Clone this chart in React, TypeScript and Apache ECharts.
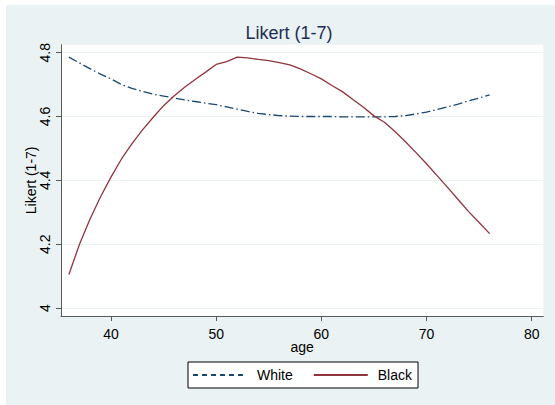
import React, { useEffect, useRef } from "react";
import * as echarts from "echarts";

// Age grid shared by both groups
const ages: number[] = [
  36, 37, 38, 39, 40, 41, 42, 43, 44, 45, 46, 47, 48, 49, 50, 51, 52, 53, 54, 55,
  56, 57, 58, 59, 60, 61, 62, 63, 64, 65, 66, 67, 68, 69, 70, 71, 72, 73, 74, 75, 76,
];

// Smoothed Likert score, White respondents
const whiteValues: number[] = [
  4.786, 4.768, 4.75, 4.733, 4.718, 4.7, 4.688, 4.679, 4.67, 4.664, 4.658, 4.652,
  4.647, 4.642, 4.637, 4.63, 4.623, 4.616, 4.61, 4.606, 4.603, 4.601, 4.6, 4.6,
  4.6, 4.6, 4.599, 4.599, 4.599, 4.599, 4.599, 4.6, 4.603, 4.608, 4.614, 4.622,
  4.63, 4.639, 4.649, 4.658, 4.668,
];

// Smoothed Likert score, Black respondents
const blackValues: number[] = [
  4.105, 4.199, 4.278, 4.348, 4.41, 4.467, 4.515, 4.558, 4.597, 4.634, 4.664,
  4.692, 4.716, 4.739, 4.763, 4.772, 4.786, 4.784, 4.779, 4.775, 4.769, 4.762,
  4.749, 4.734, 4.718, 4.697, 4.678, 4.653, 4.629, 4.602, 4.582, 4.553, 4.521,
  4.487, 4.452, 4.415, 4.378, 4.34, 4.302, 4.268, 4.233,
];

const xTicks: number[] = [40, 50, 60, 70, 80];
const yTicks: number[] = [4, 4.2, 4.4, 4.6, 4.8];

const FONT = "'Liberation Sans', Arial, sans-serif";
const AXIS_GRAY = "#5a5a5a";

export default function App() {
  const ref = useRef<HTMLDivElement>(null);

  useEffect(() => {
    if (!ref.current) return;
    const chart = echarts.init(ref.current, null, { renderer: "svg" });
    chart.setOption({
      animation: false,
      backgroundColor: "#eaf2f3",
      textStyle: { fontFamily: FONT },
      title: {
        text: "Likert (1-7)",
        left: 278,
        textAlign: "center",
        top: 14,
        textStyle: { fontFamily: FONT, fontSize: 18, fontWeight: "normal", color: "#1e2d55" },
      },
      grid: {
        left: 55,
        top: 39.7,
        right: 11.7,
        bottom: 89,
        show: true,
        backgroundColor: "#ffffff",
        borderWidth: 0,
      },
      legend: {
        left: 182,
        top: 357,
        orient: "horizontal",
        backgroundColor: "#ffffff",
        borderColor: "#000000",
        borderWidth: 1,
        borderRadius: 0,
        padding: [6, 6, 6, 4],
        itemWidth: 54,
        itemHeight: 14,
        itemGap: 20,
        itemStyle: { opacity: 0 },
        textStyle: { fontFamily: FONT, fontSize: 14, color: "#000", padding: [0, 0, 0, 5] },
        data: [
          { name: "White", lineStyle: { type: [5, 4] } },
          { name: "Black" },
        ],
      },
      xAxis: {
        type: "value",
        min: 35.25,
        max: 81.1,
        name: "age",
        nameLocation: "middle",
        nameGap: 24,
        nameMoveOverlap: false,
        nameTextStyle: { fontFamily: FONT, fontSize: 14, color: "#000" },
        axisLine: { show: true, onZero: false, lineStyle: { color: AXIS_GRAY, width: 1 } },
        axisTick: { show: true, length: 5, customValues: xTicks, lineStyle: { color: AXIS_GRAY } },
        axisLabel: {
          customValues: xTicks,
          fontFamily: FONT,
          fontSize: 14,
          color: "#000",
          margin: 11,
        },
        splitLine: { show: false },
      },
      yAxis: {
        type: "value",
        min: 3.975,
        max: 4.825,
        name: "Likert (1-7)",
        nameLocation: "middle",
        nameGap: 23,
        nameMoveOverlap: false,
        nameTextStyle: { fontFamily: FONT, fontSize: 14, color: "#000" },
        axisLine: { show: true, onZero: false, lineStyle: { color: AXIS_GRAY, width: 1 } },
        axisTick: { show: true, length: 5, customValues: yTicks, lineStyle: { color: AXIS_GRAY } },
        axisLabel: {
          customValues: yTicks,
          rotate: 90,
          fontFamily: FONT,
          fontSize: 14,
          color: "#000",
          margin: 9,
          formatter: (v: number) => String(Math.round(v * 10) / 10),
        },
        splitLine: { show: true, lineStyle: { color: "#eaf2f3", width: 1 } },
      },
      series: [
        {
          name: "White",
          type: "line",
          data: ages.map((a, i) => [a, whiteValues[i]]),
          showSymbol: false,
          symbol: "none",
          color: "#1a476f",
          lineStyle: { color: "#1a476f", width: 1.3, type: [9, 3, 1.5, 3] },
        },
        {
          name: "Black",
          type: "line",
          data: ages.map((a, i) => [a, blackValues[i]]),
          showSymbol: false,
          symbol: "none",
          color: "#90353b",
          lineStyle: { color: "#90353b", width: 1.3, type: "solid" },
        },
      ],
    });
    return () => chart.dispose();
  }, []);

  return (
    <div style={{ position: "fixed", left: 0, top: 0, width: 555, height: 405, background: "#ffffff" }}>
      <div ref={ref} style={{ position: "absolute", left: 6, top: 5, width: 549, height: 400 }} />
    </div>
  );
}
